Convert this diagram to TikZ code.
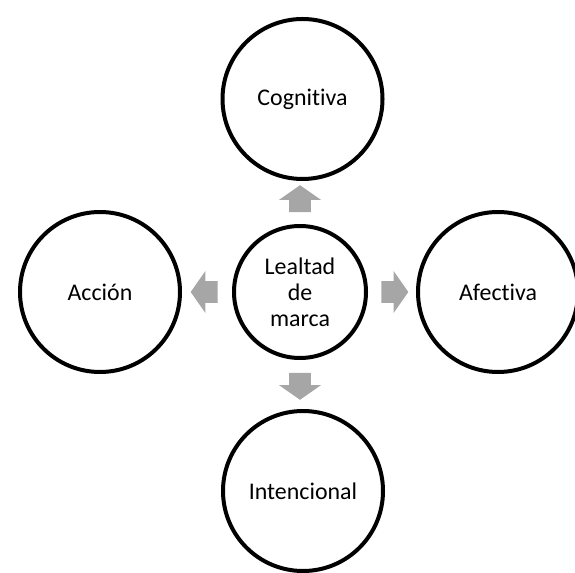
\documentclass[tikz,border=0pt]{standalone}
\usepackage{fontspec}
\setmainfont{Carlito}[Ligatures={NoCommon}]
\usetikzlibrary{shapes.arrows}
\definecolor{arrowgray}{HTML}{A6A6A6}
\tikzset{
    bigcirc/.style = {circle, draw, line width=0.8mm, minimum size=32mm, inner sep=0pt, align=center},
    midcirc/.style = {bigcirc, minimum size=26.4mm},
    blockarr/.style = {single arrow, fill=arrowgray, draw=none, inner xsep=0pt, inner ysep=2.1mm,
        minimum height=5.4mm, minimum width=8.2mm, single arrow head extend=2mm,
        single arrow tip angle=110}
}

\begin{document}
\begin{tikzpicture}[every node/.style={font=\fontsize{13.6}{14.8}\selectfont}]
\useasboundingbox (-6.0,-5.6) rectangle (5.5,5.84);
% centre
\node[midcirc] (LM) at (0, 0) {Lealtad\\de\\marca};

% outer circles
\node[bigcirc] (COG) at (0.05, 3.86) {Cognitiva};
\node[bigcirc] (ACC) at (-4.0, 0) {Acción};
\node[bigcirc] (AFE) at (3.96, 0) {Afectiva};
\node[bigcirc] (INT) at (0.06, -3.98) {Intencional};

% block arrows
\node[blockarr, rotate=90] (toCOG) at (0, 1.79) {};
\node[blockarr, rotate=180] (toACC) at (-1.84, 0) {};
\node[blockarr] (toAFE) at (1.82, 0) {};
\node[blockarr, rotate=-90] (toINT) at (0, -1.81) {};
\end{tikzpicture}
\end{document}
